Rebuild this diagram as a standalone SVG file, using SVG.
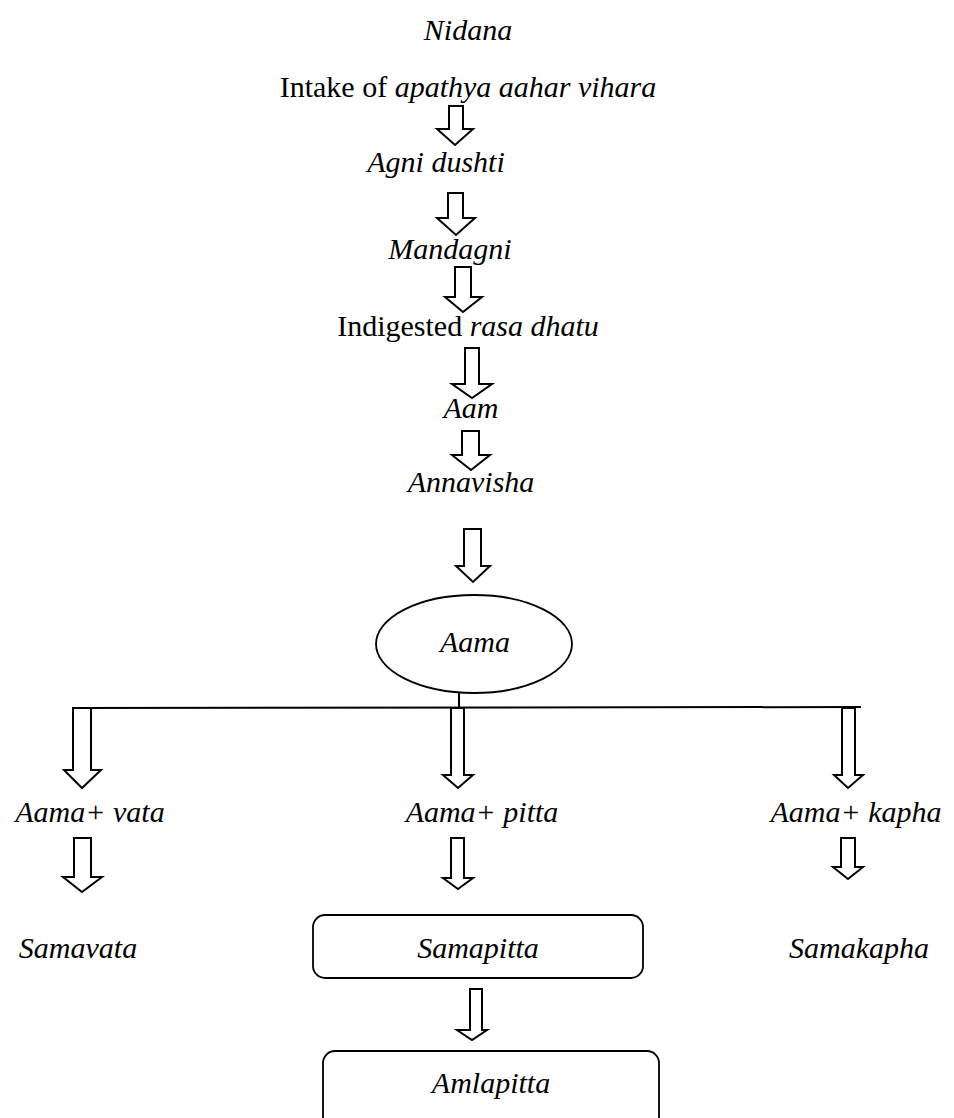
<svg xmlns="http://www.w3.org/2000/svg" width="954" height="1118" viewBox="0 0 954 1118">
<style>
text{font-family:"Liberation Serif","Times New Roman",serif;font-size:30px;fill:#000;text-anchor:middle}
.i{font-style:italic}
.ar{fill:#fff;stroke:#000;stroke-width:2;stroke-linejoin:miter}
.ln{fill:none;stroke:#000;stroke-width:2}
.bx{fill:#fff;stroke:#000;stroke-width:1.8}
</style>
<rect width="954" height="1118" fill="#fff"/>
<g id="connectors">
<line class="ln" x1="73" y1="708" x2="861" y2="707"/>
<line class="ln" x1="459" y1="693" x2="459" y2="708"/>
<polygon class="ar" points="449,106 463,106 463,129 473,129 455,145 437,129 449,129"/>
<polygon class="ar" points="448,193 463,193 463,218 475,218 456,235 437,218 448,218"/>
<polygon class="ar" points="455,267 471,267 471,297 482,297 463,312 445,297 455,297"/>
<polygon class="ar" points="465,348 479,348 479,384 492,384 472,398 452,384 465,384"/>
<polygon class="ar" points="462,431 479,431 479,455 490,455 471,470 452,455 462,455"/>
<polygon class="ar" points="464,529 481,529 481,566 490,566 473,582 456,566 464,566"/>
<polygon class="ar" points="73,708 91,708 91,770 101,770 82,788 64,770 73,770"/>
<polygon class="ar" points="451,708 464,708 464,775 473,775 458,788 443,775 451,775"/>
<polygon class="ar" points="842,708 855,708 855,775 863,775 848,788 834,775 842,775"/>
<polygon class="ar" points="74,838 91,838 91,877 102,877 82,892 63,877 74,877"/>
<polygon class="ar" points="451,838 464,838 464,878 473,878 458,889 443,878 451,878"/>
<polygon class="ar" points="841,838 855,838 855,867 863,867 848,879 833,867 841,867"/>
<polygon class="ar" points="470,989 482,989 482,1030 487,1030 472,1040 457,1030 470,1030"/>
</g>
<g id="n-nidana"><text class="i" x="468" y="40">Nidana</text></g>
<g id="n-intake"><text x="468" y="97">Intake of <tspan class="i">apathya aahar vihara</tspan></text></g>
<g id="n-agni"><text class="i" x="436" y="172">Agni dushti</text></g>
<g id="n-mandagni"><text class="i" x="450" y="259">Mandagni</text></g>
<g id="n-indigested"><text x="468" y="336">Indigested <tspan class="i">rasa dhatu</tspan></text></g>
<g id="n-aam"><text class="i" x="471" y="418">Aam</text></g>
<g id="n-annavisha"><text class="i" x="471" y="492">Annavisha</text></g>
<g id="n-aama"><ellipse class="bx" cx="474" cy="644" rx="98" ry="49"/><text class="i" x="475" y="652">Aama</text></g>
<g id="n-vata"><text class="i" x="90" y="822">Aama+ vata</text></g>
<g id="n-pitta"><text class="i" x="482" y="822">Aama+ pitta</text></g>
<g id="n-kapha"><text class="i" x="856" y="822">Aama+ kapha</text></g>
<g id="n-samavata"><text class="i" x="78" y="958">Samavata</text></g>
<g id="n-samapitta"><rect class="bx" x="313" y="915" width="330" height="63" rx="12"/><text class="i" x="478" y="958">Samapitta</text></g>
<g id="n-samakapha"><text class="i" x="859" y="958">Samakapha</text></g>
<g id="n-amlapitta"><rect class="bx" x="323" y="1051" width="336" height="90" rx="12"/><text class="i" x="491" y="1093">Amlapitta</text></g>
</svg>
